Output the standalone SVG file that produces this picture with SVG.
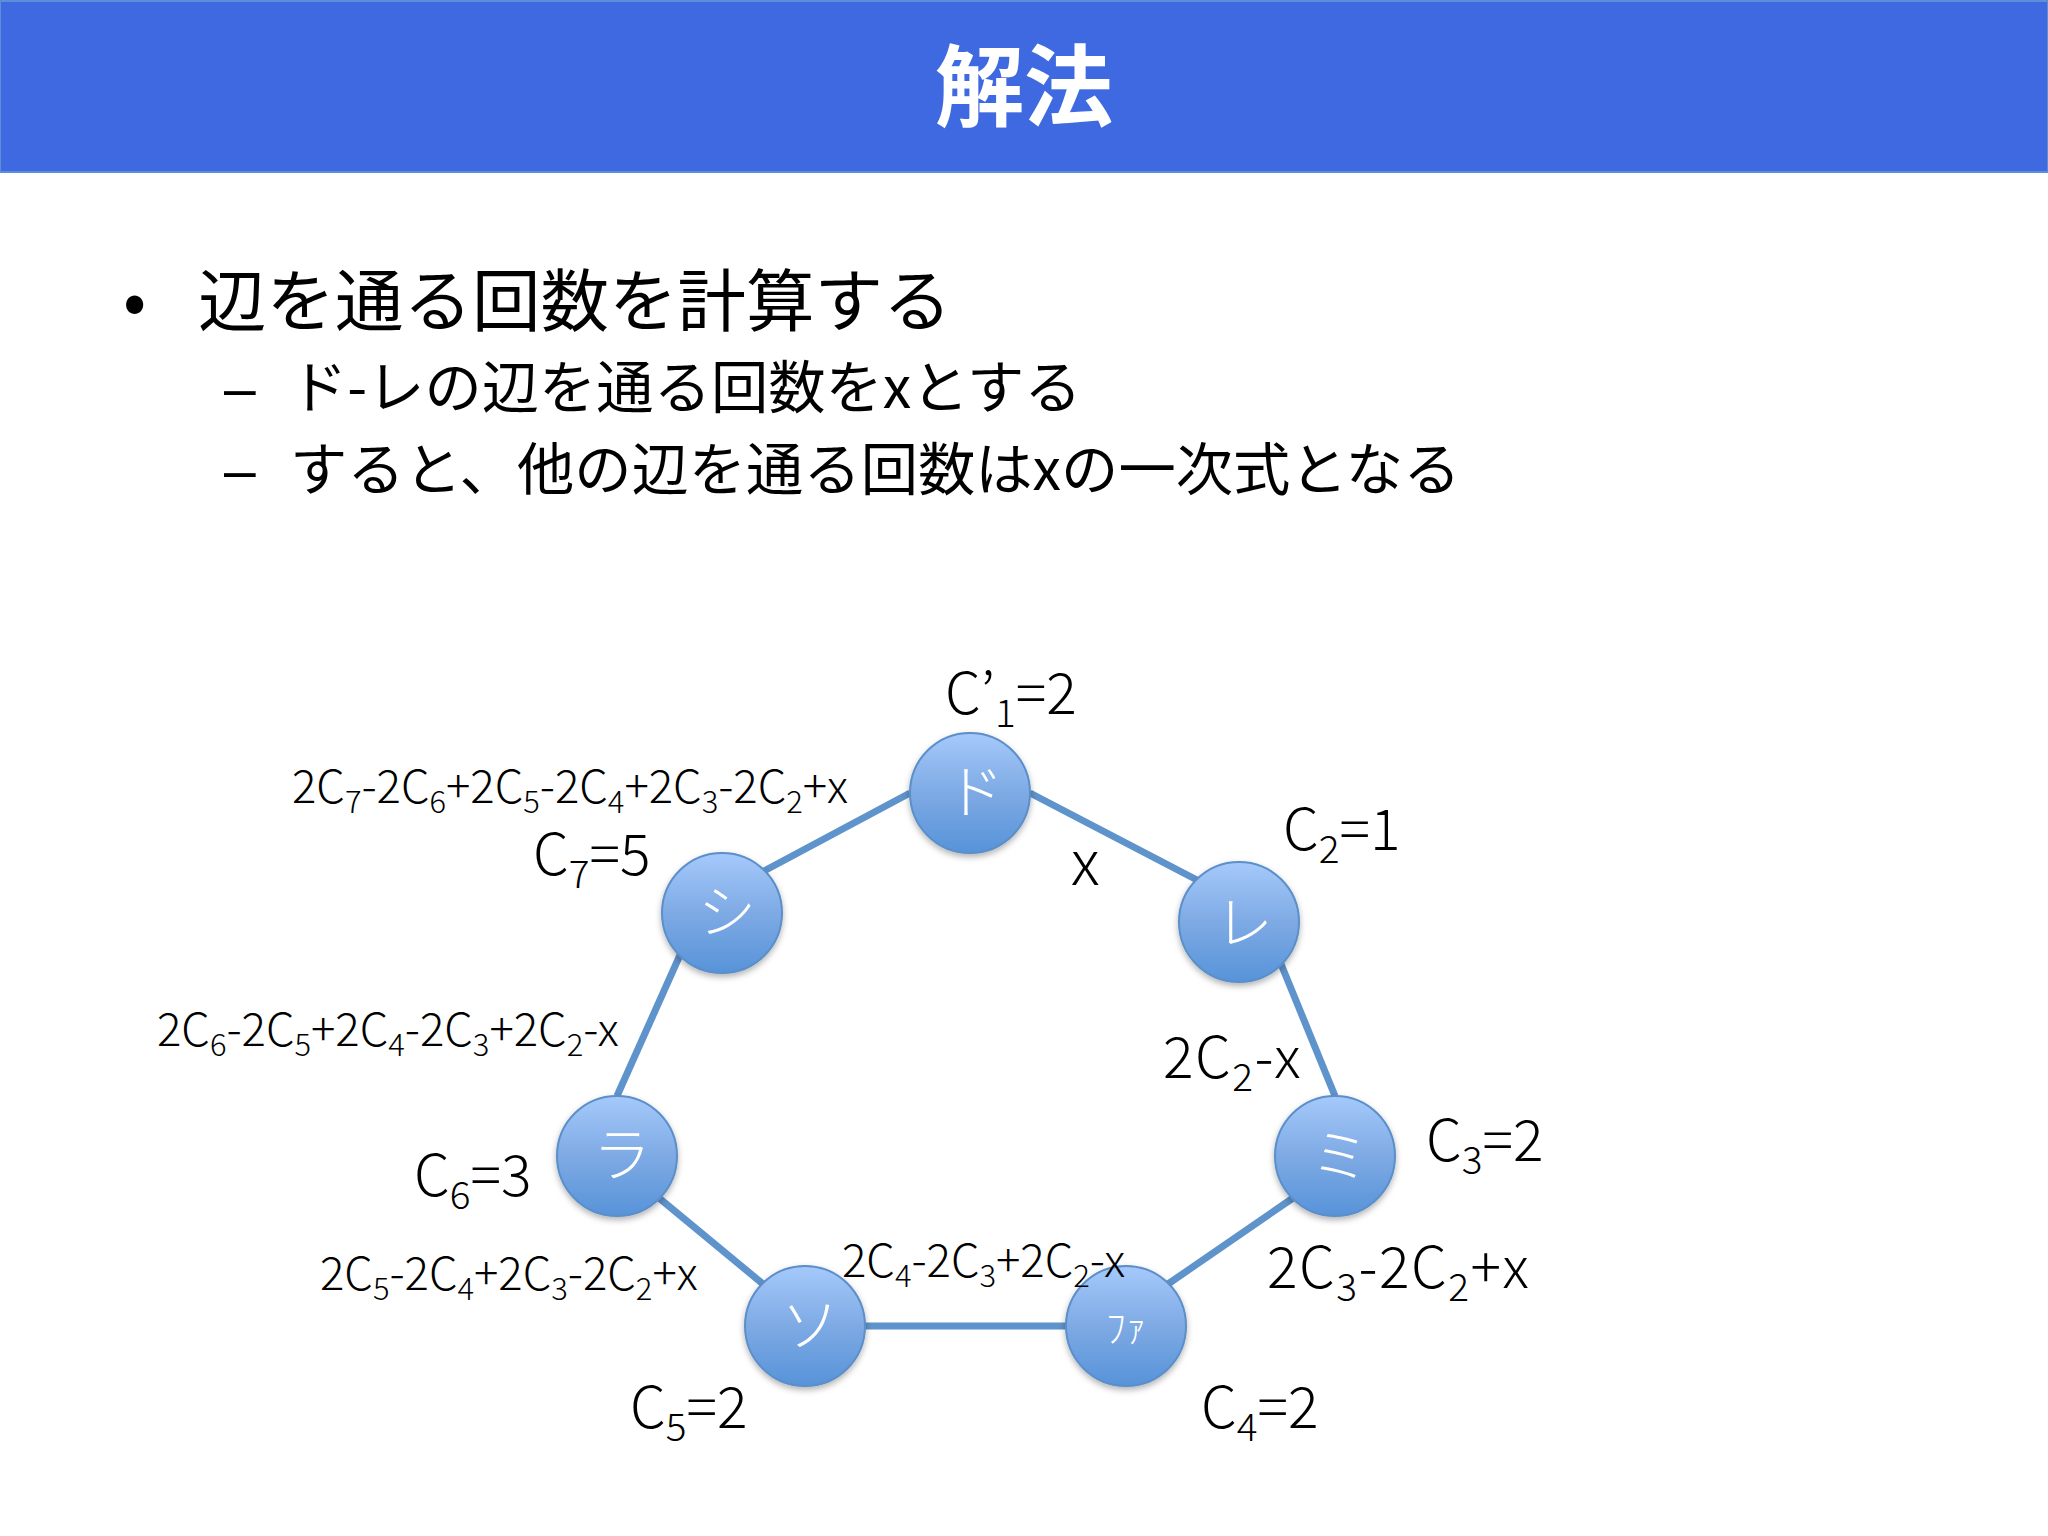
<svg xmlns="http://www.w3.org/2000/svg" width="2048" height="1536" viewBox="0 0 2048 1536">
<defs>
<linearGradient id="nodeFill" x1="0" y1="0" x2="0" y2="1"><stop offset="0" stop-color="#a5c9fb"/><stop offset="0.5" stop-color="#7eaae4"/><stop offset="1" stop-color="#5793d9"/></linearGradient>
<filter id="sh" x="-30%" y="-30%" width="160%" height="160%"><feDropShadow dx="0" dy="3" stdDeviation="3" flood-color="#000" flood-opacity="0.3"/></filter>
</defs>
<style>
text{font-family:"Noto Sans CJK JP","Noto Sans",sans-serif;fill:#000;font-weight:400}
.title{font-size:89px;font-weight:700;fill:#fff;text-anchor:middle}
.l1{font-size:68.5px}
.l2{font-size:57.3px}
.dash{font-family:"Liberation Sans",sans-serif;font-size:57px}
.big{font-size:57px;font-weight:300}
.wide{letter-spacing:1.5px}
.small{font-size:45.5px;font-weight:300}
.sub{font-size:0.68em}
.n circle{fill:url(#nodeFill);stroke:#5b8fc9;stroke-width:2;filter:url(#sh)}
.n text{fill:#fff;font-size:58px;font-weight:300;text-anchor:middle}
#connectors line{stroke:#5f93cb;stroke-width:7}
</style>
<rect width="2048" height="1536" fill="#fff"/>
<rect id="banner" x="0" y="1" width="2048" height="171" fill="#3f69e0" stroke="#5b8fd8" stroke-width="2"/>
<text class="title" x="1024" y="119">解法</text>
<text class="l1" x="123" y="325">•</text>
<text class="l1" x="198" y="326">辺を通る回数を計算する</text>
<text class="dash" x="224" y="408">–</text>
<text class="l2" x="290" y="408">ド-レの辺を通る回数をxとする</text>
<text class="dash" x="224" y="490">–</text>
<text class="l2" x="290" y="490">すると、他の辺を通る回数はxの一次式となる</text>
<g id="connectors">
<line x1="1030" y1="793" x2="1197" y2="880"/>
<line x1="1281" y1="964" x2="1335" y2="1096"/>
<line x1="1293" y1="1198" x2="1168" y2="1284"/>
<line x1="1066" y1="1326" x2="865" y2="1326"/>
<line x1="763" y1="1284" x2="659" y2="1198"/>
<line x1="617" y1="1096" x2="680" y2="955"/>
<line x1="764" y1="871" x2="910" y2="793"/>
</g>
<g id="do" class="n"><circle cx="970" cy="793" r="60"/><text x="975" y="813">ド</text></g>
<g id="re" class="n"><circle cx="1239" cy="922" r="60"/><text x="1244" y="944">レ</text></g>
<g id="mi" class="n"><circle cx="1335" cy="1156" r="60"/><text x="1340" y="1177">ミ</text></g>
<g id="fa" class="n"><circle cx="1126" cy="1326" r="60"/><text x="1126" y="1342" style="font-size:40px">ﾌｧ</text></g>
<g id="so" class="n"><circle cx="805" cy="1326" r="60"/><text x="810" y="1346">ソ</text></g>
<g id="ra" class="n"><circle cx="617" cy="1156" r="60"/><text x="622" y="1176">ラ</text></g>
<g id="si" class="n"><circle cx="722" cy="913" r="60"/><text x="727" y="933">シ</text></g>
<g id="labels">
<text class="big" x="945" y="714">C’<tspan class="sub" dy="13">1</tspan><tspan dy="-13">=2</tspan></text>
<text class="big" x="1283" y="850">C<tspan class="sub" dy="13">2</tspan><tspan dy="-13">=1</tspan></text>
<text class="big" x="1426" y="1161">C<tspan class="sub" dy="13">3</tspan><tspan dy="-13">=2</tspan></text>
<text class="big" x="1201" y="1428">C<tspan class="sub" dy="13">4</tspan><tspan dy="-13">=2</tspan></text>
<text class="big" x="630" y="1428">C<tspan class="sub" dy="13">5</tspan><tspan dy="-13">=2</tspan></text>
<text class="big" x="414" y="1196">C<tspan class="sub" dy="13">6</tspan><tspan dy="-13">=3</tspan></text>
<text class="big" x="533" y="875">C<tspan class="sub" dy="13">7</tspan><tspan dy="-13">=5</tspan></text>
<text class="big" x="1071" y="885" style="font-size:62px">x</text>
<text class="big wide" x="1163" y="1078">2C<tspan class="sub" dy="13">2</tspan><tspan dy="-13">-x</tspan></text>
<text class="big wide" x="1267" y="1288">2C<tspan class="sub" dy="13">3</tspan><tspan dy="-13">-2C</tspan><tspan class="sub" dy="13">2</tspan><tspan dy="-13">+x</tspan></text>
<text class="small" x="842" y="1277">2C<tspan class="sub" dy="10">4</tspan><tspan dy="-10">-2C</tspan><tspan class="sub" dy="10">3</tspan><tspan dy="-10">+2C</tspan><tspan class="sub" dy="10">2</tspan><tspan dy="-10">-x</tspan></text>
<text class="small" x="320" y="1290">2C<tspan class="sub" dy="10">5</tspan><tspan dy="-10">-2C</tspan><tspan class="sub" dy="10">4</tspan><tspan dy="-10">+2C</tspan><tspan class="sub" dy="10">3</tspan><tspan dy="-10">-2C</tspan><tspan class="sub" dy="10">2</tspan><tspan dy="-10">+x</tspan></text>
<text class="small" x="157" y="1046">2C<tspan class="sub" dy="10">6</tspan><tspan dy="-10">-2C</tspan><tspan class="sub" dy="10">5</tspan><tspan dy="-10">+2C</tspan><tspan class="sub" dy="10">4</tspan><tspan dy="-10">-2C</tspan><tspan class="sub" dy="10">3</tspan><tspan dy="-10">+2C</tspan><tspan class="sub" dy="10">2</tspan><tspan dy="-10">-x</tspan></text>
<text class="small" x="292" y="803">2C<tspan class="sub" dy="10">7</tspan><tspan dy="-10">-2C</tspan><tspan class="sub" dy="10">6</tspan><tspan dy="-10">+2C</tspan><tspan class="sub" dy="10">5</tspan><tspan dy="-10">-2C</tspan><tspan class="sub" dy="10">4</tspan><tspan dy="-10">+2C</tspan><tspan class="sub" dy="10">3</tspan><tspan dy="-10">-2C</tspan><tspan class="sub" dy="10">2</tspan><tspan dy="-10">+x</tspan></text>
</g>
</svg>
